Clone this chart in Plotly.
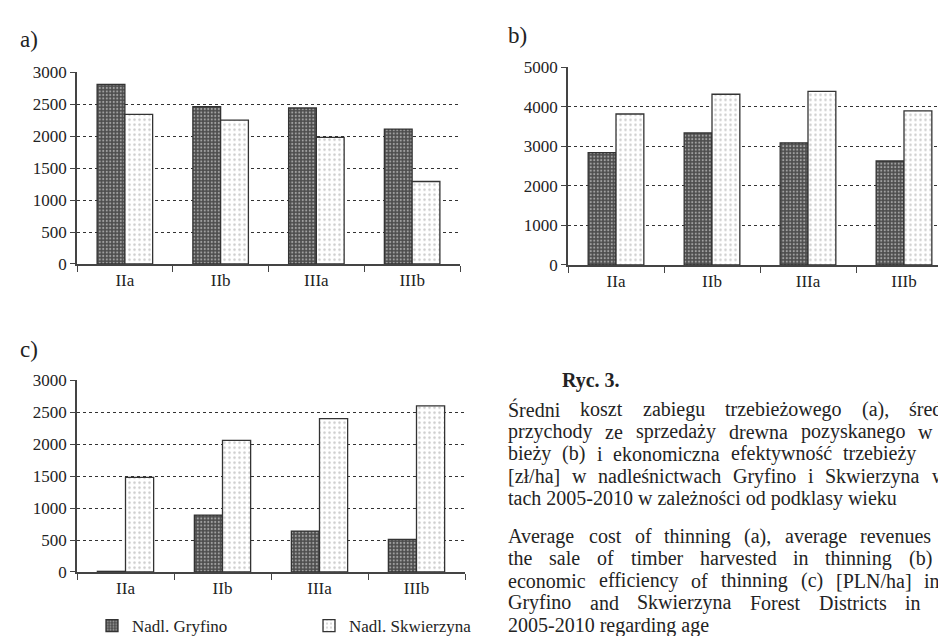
import plotly.graph_objects as go

# ---------------- data ----------------
categories = ["IIa", "IIb", "IIIa", "IIIb"]
series_names = ["Nadl. Gryfino", "Nadl. Skwierzyna"]

cost_gryfino = [2810, 2460, 2440, 2110]
cost_skwierzyna = [2340, 2250, 1980, 1290]

revenue_gryfino = [2840, 3340, 3090, 2630]
revenue_skwierzyna = [3820, 4320, 4390, 3900]

efficiency_gryfino = [10, 890, 640, 510]
efficiency_skwierzyna = [1480, 2060, 2400, 2600]

ticks_a = [0, 500, 1000, 1500, 2000, 2500, 3000]
ticks_b = [0, 1000, 2000, 3000, 4000, 5000]
ticks_c = [0, 500, 1000, 1500, 2000, 2500, 3000]

panel_labels = ["a)", "b)", "c)"]
caption_title = "Ryc. 3."
caption_pl = [
    "Średni koszt zabiegu trzebieżowego (a), średni",
    "przychody ze sprzedaży drewna pozyskanego w tr",
    "bieży (b) i ekonomiczna efektywność trzebieży",
    "[zł/ha] w nadleśnictwach Gryfino i Skwierzyna w",
    "tach 2005-2010 w zależności od podklasy wieku",
]
caption_en = [
    "Average cost of thinning (a), average revenues fr",
    "the sale of timber harvested in thinning (b) a",
    "economic efficiency of thinning (c) [PLN/ha] in t",
    "Gryfino and Skwierzyna Forest Districts in ye",
    "2005-2010 regarding age",
]

# ---------------- layout helpers ----------------
W, H = 946, 636
FONT = "Liberation Serif, Times New Roman, serif"
INK = "#232323"


def fx(px):
    return px / W


def fy(py):
    return 1 - py / H


# Times-compatible advance widths (1/1000 em) used to justify caption lines
TW = {" ": 250, "(": 333, ")": 333, ",": 250, "-": 333, ".": 250, "/": 278,
      "[": 333, "]": 333, "A": 722, "D": 722, "F": 556, "G": 722, "L": 611,
      "N": 722, "P": 556, "S": 556, "Ś": 556, "R": 667,
      "a": 444, "b": 500, "c": 444, "d": 500, "e": 444, "f": 333, "g": 500,
      "h": 500, "i": 278, "j": 278, "k": 500, "l": 278, "ł": 278, "m": 778,
      "n": 500, "o": 500, "p": 500, "q": 500, "r": 333, "s": 389, "ś": 389,
      "t": 278, "u": 500, "v": 500, "w": 722, "x": 500, "y": 500, "z": 444,
      "ż": 444, "ć": 444, "ń": 500, "ó": 500, "ą": 444, "ę": 444}


def text_w(s, size):
    return sum(TW.get(ch, 500) for ch in s) / 1000 * size


fig = go.Figure()

GRY = dict(color="#4d4d4d", line=dict(color="#333333", width=1.3),
           pattern=dict(shape=".", fgcolor="#f2f2f2", size=3.5, solidity=0.3, fillmode="overlay"))
SKW = dict(color="#ffffff", line=dict(color="#333333", width=1.3),
           pattern=dict(shape=".", fgcolor="#9a9a9a", size=5, solidity=0.2, fillmode="overlay"))

panels = [
    ("x", "y", cost_gryfino, cost_skwierzyna),
    ("x2", "y2", revenue_gryfino, revenue_skwierzyna),
    ("x3", "y3", efficiency_gryfino, efficiency_skwierzyna),
]
for i, (xa, ya, g, s) in enumerate(panels):
    fig.add_trace(go.Bar(x=categories, y=g, name=series_names[0], marker=GRY,
                         xaxis=xa, yaxis=ya, showlegend=(i == 2), legendgroup="g"))
    fig.add_trace(go.Bar(x=categories, y=s, name=series_names[1], marker=SKW,
                         xaxis=xa, yaxis=ya, showlegend=(i == 2), legendgroup="s"))

xcommon = dict(type="category", showline=True, linecolor="#444", linewidth=1.5,
               ticks="outside", tickson="boundaries", ticklen=6, tickcolor="#444",
               tickwidth=1.3, showgrid=False, zeroline=False,
               tickfont=dict(family=FONT, size=17, color=INK), fixedrange=True)
ycommon = dict(showline=True, linecolor="#444", linewidth=1.5, ticks="outside",
               ticklen=5, tickcolor="#444", tickwidth=1.3, showgrid=True,
               gridcolor="#333", griddash="dot", gridwidth=1, zeroline=False,
               tickfont=dict(family=FONT, size=17, color=INK), fixedrange=True)

fig.update_layout(
    width=W, height=H, margin=dict(l=0, r=0, t=0, b=0),
    paper_bgcolor="white", plot_bgcolor="white",
    barmode="group", bargap=0.42, bargroupgap=0,
    xaxis=dict(xcommon, domain=[fx(69), fx(452)], anchor="y"),
    yaxis=dict(ycommon, domain=[fy(255), fy(57)], range=[0, 3000], tickvals=ticks_a, anchor="x"),
    xaxis2=dict(xcommon, domain=[fx(560), fx(944)], anchor="y2"),
    yaxis2=dict(ycommon, domain=[fy(256), fy(52)], range=[0, 5000], tickvals=ticks_b, anchor="x2"),
    xaxis3=dict(xcommon, domain=[fx(69), fx(457)], anchor="y3"),
    yaxis3=dict(ycommon, domain=[fy(573), fy(375)], range=[0, 3000], tickvals=ticks_c, anchor="x3"),
    legend=dict(orientation="h", x=fx(84), y=fy(629), xanchor="left", yanchor="middle",
                font=dict(family=FONT, size=17, color=INK), entrywidth=172,
                entrywidthmode="pixels", bgcolor="rgba(0,0,0,0)", itemclick=False),
    font=dict(family=FONT, color=INK),
)

ann = []
for lab, (px, py) in zip(panel_labels, [(10, 23), (498, 19), (10, 343)]):
    ann.append(dict(text=lab, x=fx(px), y=fy(py), xref="paper", yref="paper",
                    xanchor="left", yanchor="middle", showarrow=False,
                    font=dict(family=FONT, size=23, color=INK)))

ann.append(dict(text="<b>" + caption_title + "</b>", x=fx(552), y=fy(375), xref="paper",
                yref="paper", xanchor="left", yanchor="middle", showarrow=False,
                font=dict(family=FONT, size=20, color=INK)))

CAP_SIZE = 20
LEFT = 498
EDGE = 935
line_y = [405, 428, 451, 474, 497, 536, 559, 582, 605, 628]
justified_right = [948, 948, 906, 936, None, 948, 948, 948, 948, None]
lines = caption_pl + caption_en
for txt, py, right in zip(lines, line_y, justified_right):
    words = txt.split(" ")
    if right is not None and len(words) > 1:
        total = sum(text_w(w, CAP_SIZE) for w in words)
        gap = max((right - LEFT - total) / (len(words) - 1), text_w(" ", CAP_SIZE))
        x = LEFT
        for w in words:
            shown = w
            while shown and x + text_w(shown, CAP_SIZE) > EDGE + (10 if shown == w and len(w) == 1 else 0):
                shown = shown[:-1]
            if shown:
                ann.append(dict(text=shown, x=fx(x), y=fy(py), xref="paper", yref="paper",
                                xanchor="left", yanchor="middle", showarrow=False,
                                font=dict(family=FONT, size=CAP_SIZE, color=INK)))
            x += text_w(w, CAP_SIZE) + gap
    else:
        ann.append(dict(text=txt, x=fx(LEFT), y=fy(py), xref="paper", yref="paper",
                        xanchor="left", yanchor="middle", showarrow=False,
                        font=dict(family=FONT, size=CAP_SIZE, color=INK)))

fig.update_layout(annotations=ann)
fig.write_html("out.html")
